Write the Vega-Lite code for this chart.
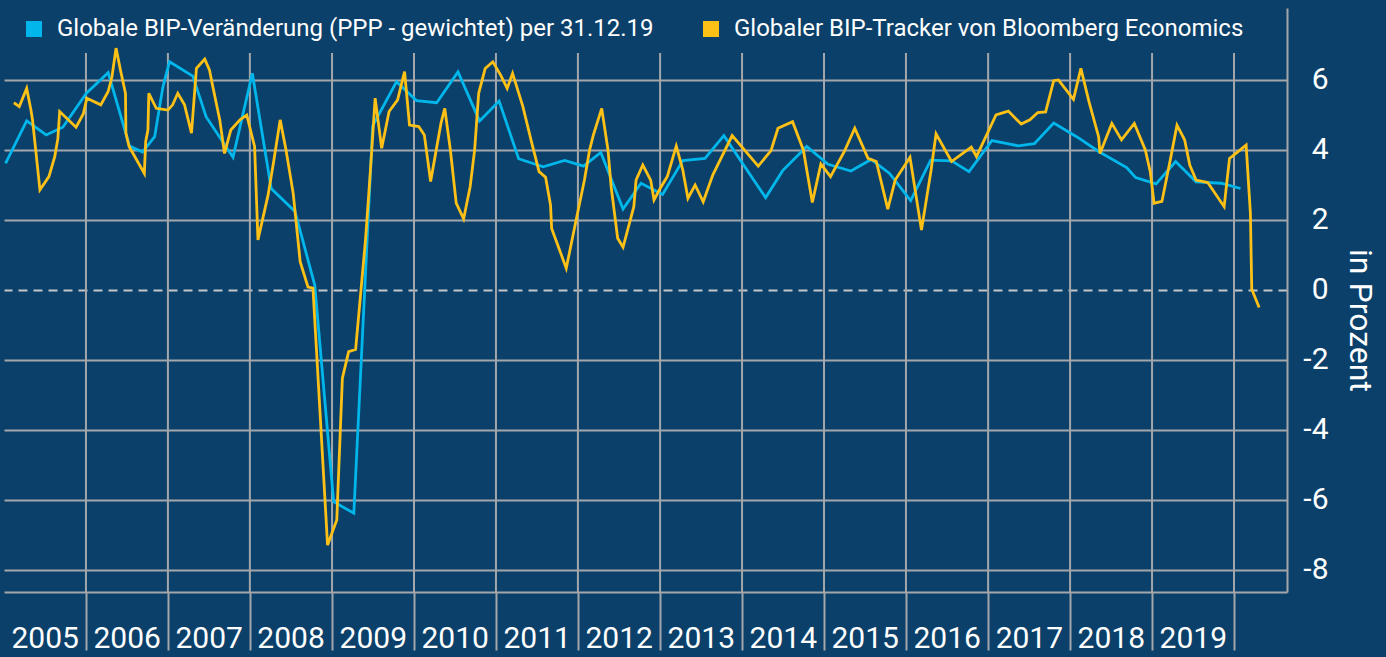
{
  "$schema": "https://vega.github.io/schema/vega-lite/v6.json",
  "width": 1283,
  "height": 584,
  "autosize": {"type": "none"},
  "padding": {"left": 4, "top": 8, "right": 99, "bottom": 65},
  "background": "#0a4069",
  "config": {"view": {"stroke": null}, "font": "Roboto"},
  "datasets": {
    "years": [
      {"date": "2006-01-01"}, {"date": "2007-01-01"}, {"date": "2008-01-01"}, {"date": "2009-01-01"},
      {"date": "2010-01-01"}, {"date": "2011-01-01"}, {"date": "2012-01-01"}, {"date": "2013-01-01"},
      {"date": "2014-01-01"}, {"date": "2015-01-01"}, {"date": "2016-01-01"}, {"date": "2017-01-01"},
      {"date": "2018-01-01"}, {"date": "2019-01-01"}, {"date": "2020-01-01"}
    ],
    "series": [
      {"s": "Globale BIP-Veränderung (PPP - gewichtet) per 31.12.19", "date": "2005-01-08", "v": 3.62},
      {"s": "Globale BIP-Veränderung (PPP - gewichtet) per 31.12.19", "date": "2005-04-12", "v": 4.83},
      {"s": "Globale BIP-Veränderung (PPP - gewichtet) per 31.12.19", "date": "2005-07-08", "v": 4.43},
      {"s": "Globale BIP-Veränderung (PPP - gewichtet) per 31.12.19", "date": "2005-09-20", "v": 4.65},
      {"s": "Globale BIP-Veränderung (PPP - gewichtet) per 31.12.19", "date": "2006-01-03", "v": 5.62},
      {"s": "Globale BIP-Veränderung (PPP - gewichtet) per 31.12.19", "date": "2006-04-10", "v": 6.21},
      {"s": "Globale BIP-Veränderung (PPP - gewichtet) per 31.12.19", "date": "2006-07-14", "v": 4.11},
      {"s": "Globale BIP-Veränderung (PPP - gewichtet) per 31.12.19", "date": "2006-09-10", "v": 3.94},
      {"s": "Globale BIP-Veränderung (PPP - gewichtet) per 31.12.19", "date": "2006-11-03", "v": 4.38},
      {"s": "Globale BIP-Veränderung (PPP - gewichtet) per 31.12.19", "date": "2006-12-10", "v": 5.81},
      {"s": "Globale BIP-Veränderung (PPP - gewichtet) per 31.12.19", "date": "2007-01-08", "v": 6.52},
      {"s": "Globale BIP-Veränderung (PPP - gewichtet) per 31.12.19", "date": "2007-04-22", "v": 6.11},
      {"s": "Globale BIP-Veränderung (PPP - gewichtet) per 31.12.19", "date": "2007-06-20", "v": 4.95},
      {"s": "Globale BIP-Veränderung (PPP - gewichtet) per 31.12.19", "date": "2007-10-18", "v": 3.79},
      {"s": "Globale BIP-Veränderung (PPP - gewichtet) per 31.12.19", "date": "2008-01-12", "v": 6.19},
      {"s": "Globale BIP-Veränderung (PPP - gewichtet) per 31.12.19", "date": "2008-04-05", "v": 2.90},
      {"s": "Globale BIP-Veränderung (PPP - gewichtet) per 31.12.19", "date": "2008-07-20", "v": 2.24},
      {"s": "Globale BIP-Veränderung (PPP - gewichtet) per 31.12.19", "date": "2008-10-16", "v": 0.14},
      {"s": "Globale BIP-Veränderung (PPP - gewichtet) per 31.12.19", "date": "2009-01-08", "v": -6.05},
      {"s": "Globale BIP-Veränderung (PPP - gewichtet) per 31.12.19", "date": "2009-04-08", "v": -6.38},
      {"s": "Globale BIP-Veränderung (PPP - gewichtet) per 31.12.19", "date": "2009-07-01", "v": 4.69},
      {"s": "Globale BIP-Veränderung (PPP - gewichtet) per 31.12.19", "date": "2009-10-15", "v": 5.95},
      {"s": "Globale BIP-Veränderung (PPP - gewichtet) per 31.12.19", "date": "2010-01-12", "v": 5.41},
      {"s": "Globale BIP-Veränderung (PPP - gewichtet) per 31.12.19", "date": "2010-04-12", "v": 5.35},
      {"s": "Globale BIP-Veränderung (PPP - gewichtet) per 31.12.19", "date": "2010-07-16", "v": 6.23},
      {"s": "Globale BIP-Veränderung (PPP - gewichtet) per 31.12.19", "date": "2010-10-20", "v": 4.83},
      {"s": "Globale BIP-Veränderung (PPP - gewichtet) per 31.12.19", "date": "2011-01-15", "v": 5.40},
      {"s": "Globale BIP-Veränderung (PPP - gewichtet) per 31.12.19", "date": "2011-04-12", "v": 3.75},
      {"s": "Globale BIP-Veränderung (PPP - gewichtet) per 31.12.19", "date": "2011-07-30", "v": 3.52},
      {"s": "Globale BIP-Veränderung (PPP - gewichtet) per 31.12.19", "date": "2011-11-03", "v": 3.70},
      {"s": "Globale BIP-Veränderung (PPP - gewichtet) per 31.12.19", "date": "2012-01-26", "v": 3.54},
      {"s": "Globale BIP-Veränderung (PPP - gewichtet) per 31.12.19", "date": "2012-04-12", "v": 3.93},
      {"s": "Globale BIP-Veränderung (PPP - gewichtet) per 31.12.19", "date": "2012-07-20", "v": 2.31},
      {"s": "Globale BIP-Veränderung (PPP - gewichtet) per 31.12.19", "date": "2012-10-08", "v": 3.05},
      {"s": "Globale BIP-Veränderung (PPP - gewichtet) per 31.12.19", "date": "2013-01-12", "v": 2.73},
      {"s": "Globale BIP-Veränderung (PPP - gewichtet) per 31.12.19", "date": "2013-04-12", "v": 3.70},
      {"s": "Globale BIP-Veränderung (PPP - gewichtet) per 31.12.19", "date": "2013-07-20", "v": 3.76},
      {"s": "Globale BIP-Veränderung (PPP - gewichtet) per 31.12.19", "date": "2013-10-12", "v": 4.41},
      {"s": "Globale BIP-Veränderung (PPP - gewichtet) per 31.12.19", "date": "2014-04-16", "v": 2.64},
      {"s": "Globale BIP-Veränderung (PPP - gewichtet) per 31.12.19", "date": "2014-07-01", "v": 3.41},
      {"s": "Globale BIP-Veränderung (PPP - gewichtet) per 31.12.19", "date": "2014-10-16", "v": 4.10},
      {"s": "Globale BIP-Veränderung (PPP - gewichtet) per 31.12.19", "date": "2015-01-19", "v": 3.59},
      {"s": "Globale BIP-Veränderung (PPP - gewichtet) per 31.12.19", "date": "2015-05-01", "v": 3.40},
      {"s": "Globale BIP-Veränderung (PPP - gewichtet) per 31.12.19", "date": "2015-07-30", "v": 3.73},
      {"s": "Globale BIP-Veränderung (PPP - gewichtet) per 31.12.19", "date": "2015-10-20", "v": 3.33},
      {"s": "Globale BIP-Veränderung (PPP - gewichtet) per 31.12.19", "date": "2016-01-22", "v": 2.55},
      {"s": "Globale BIP-Veränderung (PPP - gewichtet) per 31.12.19", "date": "2016-04-20", "v": 3.71},
      {"s": "Globale BIP-Veränderung (PPP - gewichtet) per 31.12.19", "date": "2016-07-22", "v": 3.69},
      {"s": "Globale BIP-Veränderung (PPP - gewichtet) per 31.12.19", "date": "2016-10-08", "v": 3.38},
      {"s": "Globale BIP-Veränderung (PPP - gewichtet) per 31.12.19", "date": "2017-01-18", "v": 4.27},
      {"s": "Globale BIP-Veränderung (PPP - gewichtet) per 31.12.19", "date": "2017-05-15", "v": 4.12},
      {"s": "Globale BIP-Veränderung (PPP - gewichtet) per 31.12.19", "date": "2017-07-26", "v": 4.18},
      {"s": "Globale BIP-Veränderung (PPP - gewichtet) per 31.12.19", "date": "2017-10-20", "v": 4.77},
      {"s": "Globale BIP-Veränderung (PPP - gewichtet) per 31.12.19", "date": "2018-01-30", "v": 4.38},
      {"s": "Globale BIP-Veränderung (PPP - gewichtet) per 31.12.19", "date": "2018-05-10", "v": 3.95},
      {"s": "Globale BIP-Veränderung (PPP - gewichtet) per 31.12.19", "date": "2018-09-10", "v": 3.50},
      {"s": "Globale BIP-Veränderung (PPP - gewichtet) per 31.12.19", "date": "2018-10-20", "v": 3.21},
      {"s": "Globale BIP-Veränderung (PPP - gewichtet) per 31.12.19", "date": "2019-01-19", "v": 3.03},
      {"s": "Globale BIP-Veränderung (PPP - gewichtet) per 31.12.19", "date": "2019-04-16", "v": 3.67},
      {"s": "Globale BIP-Veränderung (PPP - gewichtet) per 31.12.19", "date": "2019-07-16", "v": 3.09},
      {"s": "Globale BIP-Veränderung (PPP - gewichtet) per 31.12.19", "date": "2019-11-05", "v": 3.05},
      {"s": "Globale BIP-Veränderung (PPP - gewichtet) per 31.12.19", "date": "2020-01-30", "v": 2.90},
      {"s": "Globaler BIP-Tracker von Bloomberg Economics", "date": "2005-02-14", "v": 5.35},
      {"s": "Globaler BIP-Tracker von Bloomberg Economics", "date": "2005-03-10", "v": 5.24},
      {"s": "Globaler BIP-Tracker von Bloomberg Economics", "date": "2005-04-12", "v": 5.76},
      {"s": "Globaler BIP-Tracker von Bloomberg Economics", "date": "2005-05-01", "v": 5.14},
      {"s": "Globaler BIP-Tracker von Bloomberg Economics", "date": "2005-05-08", "v": 4.86},
      {"s": "Globaler BIP-Tracker von Bloomberg Economics", "date": "2005-06-10", "v": 2.86},
      {"s": "Globaler BIP-Tracker von Bloomberg Economics", "date": "2005-07-20", "v": 3.24},
      {"s": "Globaler BIP-Tracker von Bloomberg Economics", "date": "2005-08-15", "v": 3.81},
      {"s": "Globaler BIP-Tracker von Bloomberg Economics", "date": "2005-08-29", "v": 4.33},
      {"s": "Globaler BIP-Tracker von Bloomberg Economics", "date": "2005-09-06", "v": 5.10},
      {"s": "Globaler BIP-Tracker von Bloomberg Economics", "date": "2005-11-18", "v": 4.65},
      {"s": "Globaler BIP-Tracker von Bloomberg Economics", "date": "2005-12-20", "v": 5.03},
      {"s": "Globaler BIP-Tracker von Bloomberg Economics", "date": "2006-01-05", "v": 5.48},
      {"s": "Globaler BIP-Tracker von Bloomberg Economics", "date": "2006-03-08", "v": 5.29},
      {"s": "Globaler BIP-Tracker von Bloomberg Economics", "date": "2006-04-10", "v": 5.67},
      {"s": "Globaler BIP-Tracker von Bloomberg Economics", "date": "2006-04-27", "v": 6.10},
      {"s": "Globaler BIP-Tracker von Bloomberg Economics", "date": "2006-05-15", "v": 6.91},
      {"s": "Globaler BIP-Tracker von Bloomberg Economics", "date": "2006-06-05", "v": 6.24},
      {"s": "Globaler BIP-Tracker von Bloomberg Economics", "date": "2006-06-26", "v": 5.62},
      {"s": "Globaler BIP-Tracker von Bloomberg Economics", "date": "2006-06-28", "v": 4.48},
      {"s": "Globaler BIP-Tracker von Bloomberg Economics", "date": "2006-07-12", "v": 4.10},
      {"s": "Globaler BIP-Tracker von Bloomberg Economics", "date": "2006-09-18", "v": 3.33},
      {"s": "Globaler BIP-Tracker von Bloomberg Economics", "date": "2006-09-24", "v": 4.24},
      {"s": "Globaler BIP-Tracker von Bloomberg Economics", "date": "2006-10-04", "v": 4.57},
      {"s": "Globaler BIP-Tracker von Bloomberg Economics", "date": "2006-10-08", "v": 5.62},
      {"s": "Globaler BIP-Tracker von Bloomberg Economics", "date": "2006-11-10", "v": 5.19},
      {"s": "Globaler BIP-Tracker von Bloomberg Economics", "date": "2007-01-01", "v": 5.14},
      {"s": "Globaler BIP-Tracker von Bloomberg Economics", "date": "2007-01-22", "v": 5.29},
      {"s": "Globaler BIP-Tracker von Bloomberg Economics", "date": "2007-02-14", "v": 5.62},
      {"s": "Globaler BIP-Tracker von Bloomberg Economics", "date": "2007-03-16", "v": 5.29},
      {"s": "Globaler BIP-Tracker von Bloomberg Economics", "date": "2007-04-16", "v": 4.48},
      {"s": "Globaler BIP-Tracker von Bloomberg Economics", "date": "2007-05-08", "v": 6.33},
      {"s": "Globaler BIP-Tracker von Bloomberg Economics", "date": "2007-06-14", "v": 6.60},
      {"s": "Globaler BIP-Tracker von Bloomberg Economics", "date": "2007-07-05", "v": 6.29},
      {"s": "Globaler BIP-Tracker von Bloomberg Economics", "date": "2007-07-20", "v": 5.81},
      {"s": "Globaler BIP-Tracker von Bloomberg Economics", "date": "2007-08-20", "v": 4.86},
      {"s": "Globaler BIP-Tracker von Bloomberg Economics", "date": "2007-09-10", "v": 3.90},
      {"s": "Globaler BIP-Tracker von Bloomberg Economics", "date": "2007-10-08", "v": 4.57},
      {"s": "Globaler BIP-Tracker von Bloomberg Economics", "date": "2007-11-18", "v": 4.86},
      {"s": "Globaler BIP-Tracker von Bloomberg Economics", "date": "2007-12-18", "v": 5.00},
      {"s": "Globaler BIP-Tracker von Bloomberg Economics", "date": "2008-01-22", "v": 4.10},
      {"s": "Globaler BIP-Tracker von Bloomberg Economics", "date": "2008-02-06", "v": 1.43},
      {"s": "Globaler BIP-Tracker von Bloomberg Economics", "date": "2008-03-22", "v": 2.71},
      {"s": "Globaler BIP-Tracker von Bloomberg Economics", "date": "2008-04-16", "v": 3.67},
      {"s": "Globaler BIP-Tracker von Bloomberg Economics", "date": "2008-05-15", "v": 4.86},
      {"s": "Globaler BIP-Tracker von Bloomberg Economics", "date": "2008-06-10", "v": 4.00},
      {"s": "Globaler BIP-Tracker von Bloomberg Economics", "date": "2008-07-12", "v": 2.76},
      {"s": "Globaler BIP-Tracker von Bloomberg Economics", "date": "2008-08-12", "v": 0.81},
      {"s": "Globaler BIP-Tracker von Bloomberg Economics", "date": "2008-09-16", "v": 0.08},
      {"s": "Globaler BIP-Tracker von Bloomberg Economics", "date": "2008-10-08", "v": 0.05},
      {"s": "Globaler BIP-Tracker von Bloomberg Economics", "date": "2008-12-12", "v": -7.29},
      {"s": "Globaler BIP-Tracker von Bloomberg Economics", "date": "2009-01-22", "v": -6.57},
      {"s": "Globaler BIP-Tracker von Bloomberg Economics", "date": "2009-02-16", "v": -2.52},
      {"s": "Globaler BIP-Tracker von Bloomberg Economics", "date": "2009-03-16", "v": -1.76},
      {"s": "Globaler BIP-Tracker von Bloomberg Economics", "date": "2009-04-16", "v": -1.70},
      {"s": "Globaler BIP-Tracker von Bloomberg Economics", "date": "2009-05-30", "v": 1.43},
      {"s": "Globaler BIP-Tracker von Bloomberg Economics", "date": "2009-06-20", "v": 3.33},
      {"s": "Globaler BIP-Tracker von Bloomberg Economics", "date": "2009-07-12", "v": 5.48},
      {"s": "Globaler BIP-Tracker von Bloomberg Economics", "date": "2009-08-10", "v": 4.05},
      {"s": "Globaler BIP-Tracker von Bloomberg Economics", "date": "2009-09-12", "v": 5.10},
      {"s": "Globaler BIP-Tracker von Bloomberg Economics", "date": "2009-10-20", "v": 5.43},
      {"s": "Globaler BIP-Tracker von Bloomberg Economics", "date": "2009-11-20", "v": 6.24},
      {"s": "Globaler BIP-Tracker von Bloomberg Economics", "date": "2009-12-12", "v": 4.71},
      {"s": "Globaler BIP-Tracker von Bloomberg Economics", "date": "2010-01-22", "v": 4.67},
      {"s": "Globaler BIP-Tracker von Bloomberg Economics", "date": "2010-02-16", "v": 4.43},
      {"s": "Globaler BIP-Tracker von Bloomberg Economics", "date": "2010-03-16", "v": 3.10},
      {"s": "Globaler BIP-Tracker von Bloomberg Economics", "date": "2010-05-01", "v": 4.76},
      {"s": "Globaler BIP-Tracker von Bloomberg Economics", "date": "2010-05-18", "v": 5.19},
      {"s": "Globaler BIP-Tracker von Bloomberg Economics", "date": "2010-06-12", "v": 4.00},
      {"s": "Globaler BIP-Tracker von Bloomberg Economics", "date": "2010-07-08", "v": 2.48},
      {"s": "Globaler BIP-Tracker von Bloomberg Economics", "date": "2010-08-10", "v": 2.03},
      {"s": "Globaler BIP-Tracker von Bloomberg Economics", "date": "2010-09-08", "v": 2.95},
      {"s": "Globaler BIP-Tracker von Bloomberg Economics", "date": "2010-09-28", "v": 4.00},
      {"s": "Globaler BIP-Tracker von Bloomberg Economics", "date": "2010-10-16", "v": 5.62},
      {"s": "Globaler BIP-Tracker von Bloomberg Economics", "date": "2010-11-14", "v": 6.33},
      {"s": "Globaler BIP-Tracker von Bloomberg Economics", "date": "2010-12-18", "v": 6.52},
      {"s": "Globaler BIP-Tracker von Bloomberg Economics", "date": "2011-01-22", "v": 6.14},
      {"s": "Globaler BIP-Tracker von Bloomberg Economics", "date": "2011-02-20", "v": 5.76},
      {"s": "Globaler BIP-Tracker von Bloomberg Economics", "date": "2011-03-16", "v": 6.19},
      {"s": "Globaler BIP-Tracker von Bloomberg Economics", "date": "2011-05-01", "v": 5.24},
      {"s": "Globaler BIP-Tracker von Bloomberg Economics", "date": "2011-06-06", "v": 4.29},
      {"s": "Globaler BIP-Tracker von Bloomberg Economics", "date": "2011-07-12", "v": 3.38},
      {"s": "Globaler BIP-Tracker von Bloomberg Economics", "date": "2011-08-10", "v": 3.22},
      {"s": "Globaler BIP-Tracker von Bloomberg Economics", "date": "2011-09-01", "v": 2.43},
      {"s": "Globaler BIP-Tracker von Bloomberg Economics", "date": "2011-09-06", "v": 1.76},
      {"s": "Globaler BIP-Tracker von Bloomberg Economics", "date": "2011-11-10", "v": 0.62},
      {"s": "Globaler BIP-Tracker von Bloomberg Economics", "date": "2011-12-24", "v": 2.00},
      {"s": "Globaler BIP-Tracker von Bloomberg Economics", "date": "2012-01-30", "v": 3.14},
      {"s": "Globaler BIP-Tracker von Bloomberg Economics", "date": "2012-02-22", "v": 4.00},
      {"s": "Globaler BIP-Tracker von Bloomberg Economics", "date": "2012-03-10", "v": 4.43},
      {"s": "Globaler BIP-Tracker von Bloomberg Economics", "date": "2012-04-16", "v": 5.19},
      {"s": "Globaler BIP-Tracker von Bloomberg Economics", "date": "2012-05-14", "v": 4.00},
      {"s": "Globaler BIP-Tracker von Bloomberg Economics", "date": "2012-05-28", "v": 2.95},
      {"s": "Globaler BIP-Tracker von Bloomberg Economics", "date": "2012-06-26", "v": 1.48},
      {"s": "Globaler BIP-Tracker von Bloomberg Economics", "date": "2012-07-20", "v": 1.22},
      {"s": "Globaler BIP-Tracker von Bloomberg Economics", "date": "2012-09-06", "v": 2.38},
      {"s": "Globaler BIP-Tracker von Bloomberg Economics", "date": "2012-09-16", "v": 3.14},
      {"s": "Globaler BIP-Tracker von Bloomberg Economics", "date": "2012-10-16", "v": 3.57},
      {"s": "Globaler BIP-Tracker von Bloomberg Economics", "date": "2012-11-20", "v": 3.14},
      {"s": "Globaler BIP-Tracker von Bloomberg Economics", "date": "2012-12-05", "v": 2.57},
      {"s": "Globaler BIP-Tracker von Bloomberg Economics", "date": "2013-01-01", "v": 2.90},
      {"s": "Globaler BIP-Tracker von Bloomberg Economics", "date": "2013-02-02", "v": 3.24},
      {"s": "Globaler BIP-Tracker von Bloomberg Economics", "date": "2013-03-14", "v": 4.11},
      {"s": "Globaler BIP-Tracker von Bloomberg Economics", "date": "2013-04-12", "v": 3.43},
      {"s": "Globaler BIP-Tracker von Bloomberg Economics", "date": "2013-05-05", "v": 2.62},
      {"s": "Globaler BIP-Tracker von Bloomberg Economics", "date": "2013-06-06", "v": 3.00},
      {"s": "Globaler BIP-Tracker von Bloomberg Economics", "date": "2013-07-12", "v": 2.52},
      {"s": "Globaler BIP-Tracker von Bloomberg Economics", "date": "2013-08-24", "v": 3.29},
      {"s": "Globaler BIP-Tracker von Bloomberg Economics", "date": "2013-11-18", "v": 4.41},
      {"s": "Globaler BIP-Tracker von Bloomberg Economics", "date": "2014-03-14", "v": 3.54},
      {"s": "Globaler BIP-Tracker von Bloomberg Economics", "date": "2014-05-10", "v": 3.98},
      {"s": "Globaler BIP-Tracker von Bloomberg Economics", "date": "2014-06-10", "v": 4.62},
      {"s": "Globaler BIP-Tracker von Bloomberg Economics", "date": "2014-08-14", "v": 4.81},
      {"s": "Globaler BIP-Tracker von Bloomberg Economics", "date": "2014-10-01", "v": 4.00},
      {"s": "Globaler BIP-Tracker von Bloomberg Economics", "date": "2014-11-10", "v": 2.50},
      {"s": "Globaler BIP-Tracker von Bloomberg Economics", "date": "2014-12-18", "v": 3.60},
      {"s": "Globaler BIP-Tracker von Bloomberg Economics", "date": "2015-01-30", "v": 3.24},
      {"s": "Globaler BIP-Tracker von Bloomberg Economics", "date": "2015-04-01", "v": 3.95},
      {"s": "Globaler BIP-Tracker von Bloomberg Economics", "date": "2015-05-18", "v": 4.62},
      {"s": "Globaler BIP-Tracker von Bloomberg Economics", "date": "2015-07-16", "v": 3.76},
      {"s": "Globaler BIP-Tracker von Bloomberg Economics", "date": "2015-08-22", "v": 3.67},
      {"s": "Globaler BIP-Tracker von Bloomberg Economics", "date": "2015-10-12", "v": 2.31},
      {"s": "Globaler BIP-Tracker von Bloomberg Economics", "date": "2015-11-14", "v": 3.14},
      {"s": "Globaler BIP-Tracker von Bloomberg Economics", "date": "2016-01-19", "v": 3.79},
      {"s": "Globaler BIP-Tracker von Bloomberg Economics", "date": "2016-03-10", "v": 1.71},
      {"s": "Globaler BIP-Tracker von Bloomberg Economics", "date": "2016-04-22", "v": 3.43},
      {"s": "Globaler BIP-Tracker von Bloomberg Economics", "date": "2016-05-14", "v": 4.46},
      {"s": "Globaler BIP-Tracker von Bloomberg Economics", "date": "2016-07-22", "v": 3.67},
      {"s": "Globaler BIP-Tracker von Bloomberg Economics", "date": "2016-10-18", "v": 4.08},
      {"s": "Globaler BIP-Tracker von Bloomberg Economics", "date": "2016-11-10", "v": 3.81},
      {"s": "Globaler BIP-Tracker von Bloomberg Economics", "date": "2017-02-05", "v": 5.00},
      {"s": "Globaler BIP-Tracker von Bloomberg Economics", "date": "2017-04-01", "v": 5.11},
      {"s": "Globaler BIP-Tracker von Bloomberg Economics", "date": "2017-05-28", "v": 4.74},
      {"s": "Globaler BIP-Tracker von Bloomberg Economics", "date": "2017-07-06", "v": 4.86},
      {"s": "Globaler BIP-Tracker von Bloomberg Economics", "date": "2017-08-10", "v": 5.07},
      {"s": "Globaler BIP-Tracker von Bloomberg Economics", "date": "2017-09-14", "v": 5.09},
      {"s": "Globaler BIP-Tracker von Bloomberg Economics", "date": "2017-10-20", "v": 5.98},
      {"s": "Globaler BIP-Tracker von Bloomberg Economics", "date": "2017-11-10", "v": 6.00},
      {"s": "Globaler BIP-Tracker von Bloomberg Economics", "date": "2018-01-16", "v": 5.45},
      {"s": "Globaler BIP-Tracker von Bloomberg Economics", "date": "2018-02-18", "v": 6.33},
      {"s": "Globaler BIP-Tracker von Bloomberg Economics", "date": "2018-03-26", "v": 5.38},
      {"s": "Globaler BIP-Tracker von Bloomberg Economics", "date": "2018-05-08", "v": 4.38},
      {"s": "Globaler BIP-Tracker von Bloomberg Economics", "date": "2018-05-14", "v": 3.90},
      {"s": "Globaler BIP-Tracker von Bloomberg Economics", "date": "2018-07-06", "v": 4.76},
      {"s": "Globaler BIP-Tracker von Bloomberg Economics", "date": "2018-08-18", "v": 4.29},
      {"s": "Globaler BIP-Tracker von Bloomberg Economics", "date": "2018-10-14", "v": 4.76},
      {"s": "Globaler BIP-Tracker von Bloomberg Economics", "date": "2018-12-02", "v": 4.00},
      {"s": "Globaler BIP-Tracker von Bloomberg Economics", "date": "2018-12-24", "v": 3.38},
      {"s": "Globaler BIP-Tracker von Bloomberg Economics", "date": "2019-01-10", "v": 2.48},
      {"s": "Globaler BIP-Tracker von Bloomberg Economics", "date": "2019-02-14", "v": 2.53},
      {"s": "Globaler BIP-Tracker von Bloomberg Economics", "date": "2019-03-26", "v": 3.81},
      {"s": "Globaler BIP-Tracker von Bloomberg Economics", "date": "2019-04-22", "v": 4.71},
      {"s": "Globaler BIP-Tracker von Bloomberg Economics", "date": "2019-05-26", "v": 4.29},
      {"s": "Globaler BIP-Tracker von Bloomberg Economics", "date": "2019-06-18", "v": 3.57},
      {"s": "Globaler BIP-Tracker von Bloomberg Economics", "date": "2019-07-16", "v": 3.14},
      {"s": "Globaler BIP-Tracker von Bloomberg Economics", "date": "2019-09-06", "v": 3.07},
      {"s": "Globaler BIP-Tracker von Bloomberg Economics", "date": "2019-11-18", "v": 2.38},
      {"s": "Globaler BIP-Tracker von Bloomberg Economics", "date": "2019-12-12", "v": 3.76},
      {"s": "Globaler BIP-Tracker von Bloomberg Economics", "date": "2020-01-01", "v": 3.86},
      {"s": "Globaler BIP-Tracker von Bloomberg Economics", "date": "2020-02-24", "v": 4.14},
      {"s": "Globaler BIP-Tracker von Bloomberg Economics", "date": "2020-03-14", "v": 2.19},
      {"s": "Globaler BIP-Tracker von Bloomberg Economics", "date": "2020-03-20", "v": 0.02},
      {"s": "Globaler BIP-Tracker von Bloomberg Economics", "date": "2020-04-22", "v": -0.50}
    ]
  },
  "encoding": {
    "x": {
      "field": "date",
      "type": "temporal",
      "scale": {"domain": ["2005-01-01", "2020-08-24"], "nice": false},
      "axis": {
        "title": null,
        "grid": false,
        "values": ["2005-01-01", "2006-01-01", "2007-01-01", "2008-01-01", "2009-01-01", "2010-01-01", "2011-01-01", "2012-01-01", "2013-01-01", "2014-01-01", "2015-01-01", "2016-01-01", "2017-01-01", "2018-01-01", "2019-01-01", "2020-01-01"],
        "labelExpr": "year(datum.value) == 2020 ? '' : timeFormat(datum.value, '%Y')",
        "labelAlign": "left",
        "labelBaseline": "alphabetic",
        "labelOffset": 7,
        "labelPadding": -3,
        "labelFontSize": 30,
        "labelColor": "#ffffff",
        "labelFlush": false,
        "labelOverlap": false,
        "tickSize": 58,
        "tickWidth": 2,
        "tickColor": "#a3a7ab",
        "tickOpacity": {"condition": {"test": "year(datum.value) == 2005", "value": 0}, "value": 1},
        "domain": true,
        "domainColor": "#a3a7ab",
        "domainWidth": 2
      }
    }
  },
  "layer": [
    {
      "data": {"name": "years"},
      "mark": {"type": "rule", "color": "#a3a7ab", "strokeWidth": 2},
      "encoding": {
        "y": {"datum": -8.63, "type": "quantitative"},
        "y2": {"datum": 6.77}
      }
    },
    {
      "data": {"name": "series"},
      "mark": {"type": "line", "strokeWidth": 2.8, "strokeJoin": "miter"},
      "encoding": {
        "y": {
          "field": "v",
          "type": "quantitative",
          "scale": {"domain": [-8.63, 8.057], "nice": false, "zero": false},
          "axis": {
            "orient": "right",
            "title": "in Prozent",
            "titleFontSize": 32,
            "titleFontWeight": "normal",
            "titleColor": "#ffffff",
            "titlePadding": 14,
            "titleY": 312,
            "values": [-8, -6, -4, -2, 0, 2, 4, 6],
            "labelExpr": "'' + datum.value",
            "labelFontSize": 30,
            "labelColor": "#ffffff",
            "labelAlign": "right",
            "labelPadding": 41,
            "labelBaseline": "middle",
            "ticks": false,
            "domain": true,
            "domainColor": "#a3a7ab",
            "domainWidth": 2,
            "grid": true,
            "gridColor": {"condition": {"test": "datum.value === 0", "value": "#c4c6c9"}, "value": "#a3a7ab"},
            "gridWidth": 2,
            "gridDash": {"condition": {"test": "datum.value === 0", "value": [9, 6]}, "value": []}
          }
        },
        "color": {
          "field": "s",
          "type": "nominal",
          "scale": {
            "domain": ["Globale BIP-Veränderung (PPP - gewichtet) per 31.12.19", "Globaler BIP-Tracker von Bloomberg Economics"],
            "range": ["#00b6ea", "#fcc016"]
          },
          "legend": {
            "title": null,
            "orient": "none",
            "legendX": 18,
            "legendY": 9,
            "direction": "horizontal",
            "padding": 0,
            "symbolType": "square",
            "symbolSize": 256,
            "symbolStrokeWidth": 0,
            "labelFontSize": 24,
            "labelColor": "#ffffff",
            "labelOffset": 11,
            "labelLimit": 800,
            "columnPadding": 45,
            "encode": {"symbols": {"update": {"fill": {"scale": "color", "field": "value"}, "strokeWidth": {"value": 0}}}}
          }
        }
      }
    }
  ]
}
